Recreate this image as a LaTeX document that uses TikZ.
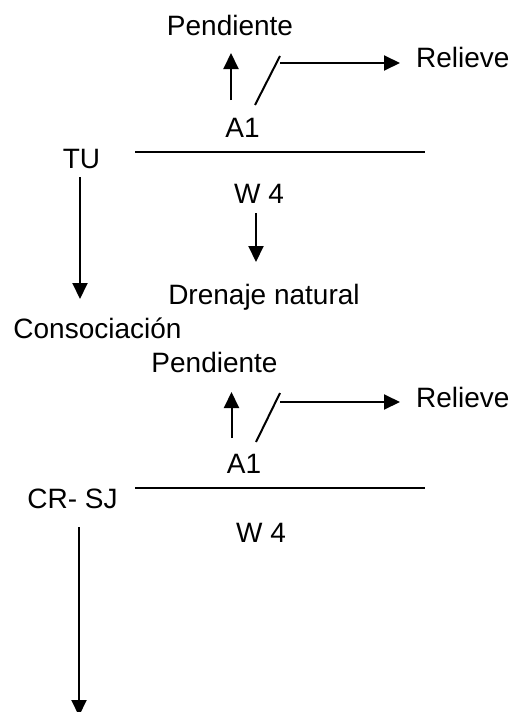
\documentclass[tikz,border=0pt]{standalone}
\usepackage{fontspec}
\setmainfont{Liberation Sans}
\usetikzlibrary{arrows.meta}
\begin{document}
\begin{tikzpicture}[x=1pt,y=-1pt,
  lbl/.style={inner sep=0pt,anchor=base,font=\fontsize{28}{34}\selectfont},
  ln/.style={line width=2pt},
  arr/.style={ln,-{Triangle[length=16pt,width=15pt]}}]
\useasboundingbox (0,0) rectangle (515,712);

% first symbol: TU
\node[lbl] (pend1) at (230,35) {Pendiente};
\node[lbl,anchor=base west] (rel1) at (416,67) {Relieve};
\node[lbl] (a1a) at (242.5,137) {A1};
\node[lbl] (tu) at (81.5,168) {TU};
\node[lbl] (w4a) at (259,203) {W 4};
\node[lbl] (dren) at (264,304) {Drenaje natural};
\node[lbl] (conso) at (97.5,338) {Consociación};

\coordinate (l1s) at (135,152);
\coordinate (l1e) at (425,152);
\coordinate (up1s) at (231,100);
\coordinate (up1e) at (231,53);
\coordinate (sl1s) at (255,105);
\coordinate (sl1e) at (280,56);
\coordinate (rl1s) at (280,63);
\coordinate (rl1e) at (400,63);
\coordinate (dn1s) at (256,213);
\coordinate (dn1e) at (256,262);
\coordinate (tu1s) at (80,177);
\coordinate (tu1e) at (80,299);

\draw[ln] (l1s) -- (l1e);
\draw[arr] (up1s) -- (up1e);
\draw[ln] (sl1s) -- (sl1e);
\draw[arr] (rl1s) -- (rl1e);
\draw[arr] (dn1s) -- (dn1e);
\draw[arr] (tu1s) -- (tu1e);

% second symbol: CR- SJ
\node[lbl] (pend2) at (214.5,372) {Pendiente};
\node[lbl,anchor=base west] (rel2) at (416,407) {Relieve};
\node[lbl] (a1b) at (244,473) {A1};
\node[lbl] (crsj) at (72.5,508) {CR- SJ};
\node[lbl] (w4b) at (261,542) {W 4};

\coordinate (l2s) at (135,488);
\coordinate (l2e) at (425,488);
\coordinate (up2s) at (231.5,438);
\coordinate (up2e) at (231.5,392);
\coordinate (sl2s) at (256,442);
\coordinate (sl2e) at (280,393);
\coordinate (rl2s) at (280,402);
\coordinate (rl2e) at (400,402);
\coordinate (cr2s) at (79,527);
\coordinate (cr2e) at (79,716);

\draw[ln] (l2s) -- (l2e);
\draw[arr] (up2s) -- (up2e);
\draw[ln] (sl2s) -- (sl2e);
\draw[arr] (rl2s) -- (rl2e);
\draw[arr] (cr2s) -- (cr2e);
\end{tikzpicture}
\end{document}
